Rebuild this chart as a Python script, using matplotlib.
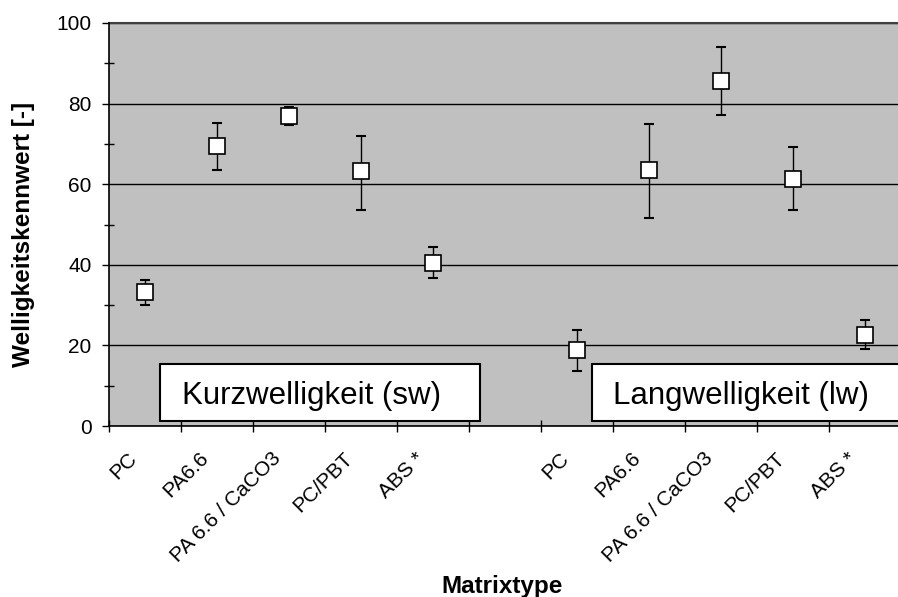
import matplotlib
matplotlib.use("Agg")
import matplotlib.pyplot as plt
import numpy as np
from matplotlib.patches import Rectangle
from matplotlib.transforms import ScaledTranslation

plt.rcParams['font.family'] = ['Liberation Sans', 'DejaVu Sans']

# Categories: short-wave group, empty gap slot, long-wave group
materials = ["PC", "PA6.6", "PA 6.6 / CaCO3", "PC/PBT", "ABS *"]
tick_labels = materials + [""] + materials

# Short-wave values (mean, upper and lower end of the error bar)
sw_mean = [33.2, 69.4, 76.9, 63.2, 40.5]
sw_upper = [36.2, 75.3, 79.2, 72.0, 44.4]
sw_lower = [30.0, 63.6, 74.6, 53.6, 36.7]

# Long-wave values
lw_mean = [18.8, 63.4, 85.7, 61.4, 22.7]
lw_upper = [23.9, 74.9, 94.1, 69.2, 26.4]
lw_lower = [13.6, 51.5, 77.2, 53.6, 19.1]

group_labels = ["Kurzwelligkeit (sw)", "Langwelligkeit (lw)"]
ylabel = "Welligkeitskennwert [-]"
xlabel = "Matrixtype"

fig = plt.figure(figsize=(8.98, 5.97), dpi=100)
W, H = 898, 597
ax = fig.add_axes([109 / W, (H - 426) / H, 792 / W, 403 / H])
ax.set_facecolor("#c0c0c0")

n = len(tick_labels)
x_sw = np.arange(len(materials))
x_lw = np.arange(len(materials)) + len(materials) + 1

for xs, m, up, lo in [(x_sw, sw_mean, sw_upper, sw_lower),
                      (x_lw, lw_mean, lw_upper, lw_lower)]:
    m = np.array(m)
    yerr = np.vstack([m - np.array(lo), np.array(up) - m])
    ax.errorbar(xs, m, yerr=yerr, fmt="none", ecolor="black",
                elinewidth=1.0, capsize=3.5, capthick=1.5, zorder=3)
    ax.plot(xs, m, linestyle="none", marker="s", markersize=11,
            markerfacecolor="white", markeredgecolor="black",
            markeredgewidth=1.2, zorder=4)

ax.set_xlim(-0.5, n - 0.5)
ax.set_ylim(0, 100)

# horizontal grid
ax.set_yticks(np.arange(0, 101, 20))
ax.set_yticks(np.arange(10, 100, 20), minor=True)
ax.yaxis.grid(True, which="major", color="black", linewidth=1.0)
ax.set_axisbelow(True)
ax.tick_params(axis="y", which="major", direction="out", length=5,
               width=1, labelsize=15, pad=7.5)
ax.tick_params(axis="y", which="minor", direction="inout", length=7, width=1)

# category labels at centers, tick marks at category boundaries
ax.set_xticks(np.arange(n))
ax.set_xticklabels(tick_labels, rotation=45, ha="right", va="center",
                   rotation_mode="anchor", fontsize=15)
ax.tick_params(axis="x", which="major", length=0, pad=24)
ax.set_xticks(np.arange(-0.5, n, 1.0), minor=True)
ax.tick_params(axis="x", which="minor", direction="inout", length=8, width=1)

shift = ScaledTranslation(-11 / 100, 4 / 100, fig.dpi_scale_trans)
for lbl in ax.get_xticklabels():
    lbl.set_transform(lbl.get_transform() + shift)

for side in ["top", "right"]:
    ax.spines[side].set_visible(False)
ax.spines["left"].set_linewidth(1.2)
ax.spines["bottom"].set_linewidth(1.2)
ax.axhline(100, color="#404040", linewidth=1.5, clip_on=False)

ax.set_ylabel(ylabel, fontsize=17.5, fontweight="bold")
ax.yaxis.set_label_coords(-0.094, 0.476)
fig.text(502 / W, 4 / H, xlabel, fontsize=17.5, fontweight="bold",
         ha="center", va="baseline")

# group caption boxes
box_specs = [(51 / 792, 320 / 792, 73 / 792, group_labels[0]),
             (483 / 792, 330 / 792, 504 / 792, group_labels[1])]
for x0, w, tx, text in box_specs:
    ax.add_patch(Rectangle((x0, 5 / 403), w, 57 / 403, transform=ax.transAxes,
                           facecolor="white", edgecolor="black", linewidth=1.5,
                           zorder=5, clip_on=False))
    ax.text(tx, 22 / 403, text, transform=ax.transAxes, fontsize=22.5,
            ha="left", va="baseline", zorder=6)

fig.savefig("out.png", dpi=100)
